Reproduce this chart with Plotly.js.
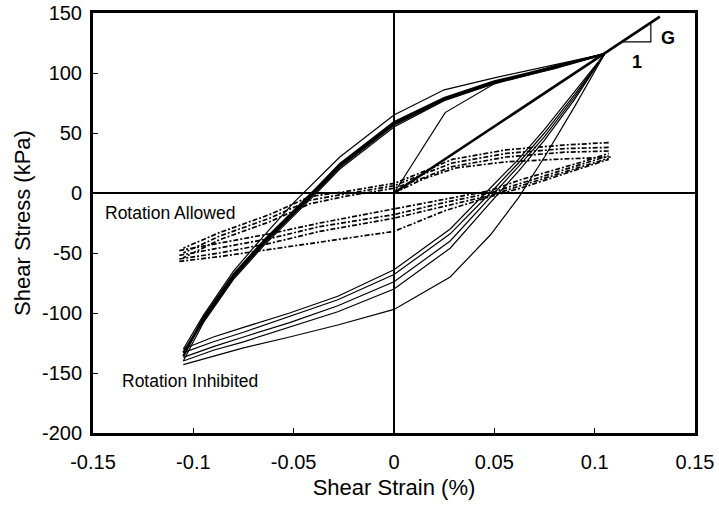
<!DOCTYPE html>
<html>
<head>
<meta charset="utf-8">
<script src="https://cdn.plot.ly/plotly-3.0.1.min.js"></script>
<style>html,body{margin:0;padding:0;background:#fff;}#chart{width:719px;height:507px;}</style>
</head>
<body>
<div id="chart"></div>
<script>
// ---- Tick labels ----
const xTickVals = [-0.15, -0.1, -0.05, 0, 0.05, 0.1, 0.15];
const xTickText = ["-0.15", "-0.1", "-0.05", "0", "0.05", "0.1", "0.15"];
const yTickVals = [-200, -150, -100, -50, 0, 50, 100, 150];
const yTickText = ["-200", "-150", "-100", "-50", "0", "50", "100", "150"];

// ---- Rotation Inhibited (solid loops) ----
const inhibInitX = [0, 0.0255, 0.051, 0.08, 0.105];
const inhibInitY = [0, 67, 92, 106, 116];

const inhibUpperX = [0.105, 0.08, 0.05, 0.025, 0, -0.027, -0.038, -0.05, -0.065, -0.08, -0.095, -0.105];
const inhibUpperA = [116, 104, 92, 78, 57, 22, 3, -17, -42, -70, -106, -133];
const inhibUpperB = [116, 107, 96, 86, 65, 30, 12, -8, -36, -65, -102, -130];
const inhibUpperC = [116, 105, 93, 79, 59, 24, 5, -15, -40, -68, -104, -136];
const inhibUpperD = [116, 104, 91, 77, 55, 20, 1, -19, -44, -72, -108, -140];

const inhibLowerX = [-0.105, -0.09, -0.075, -0.052, -0.028, 0, 0.028, 0.048, 0.062, 0.075, 0.09, 0.105];
const inhibLowerA = [-133, -124, -116, -103, -89, -68, -34, 0, 25, 50, 82, 116];
const inhibLowerB = [-130, -120, -112, -100, -86, -64, -30, 4, 28, 53, 85, 116];
const inhibLowerC = [-137, -128, -120, -108, -94, -74, -40, -4, 22, 47, 80, 116];
const inhibLowerD = [-140, -131, -124, -112, -99, -80, -46, -8, 18, 44, 78, 116];
const inhibLowerE = [-143, -136, -129, -120, -110, -97, -70, -35, -4, 30, 72, 116];

// ---- Shear modulus line G and slope triangle ----
const gLineX = [0, 0.1325];
const gLineY = [0, 147];
const triX = [0.114, 0.128, 0.128];
const triY = [126, 126, 141];

// ---- Rotation Allowed (dashed loops) ----
const allowInitX = [0, 0.015, 0.031, 0.056, 0.08, 0.108];
const allowInitY = [0, 12, 21, 26, 28, 30];

const allowUpperX = [0.107, 0.085, 0.056, 0.029, 0.012, 0, -0.025, -0.042, -0.062, -0.087, -0.105];
const allowUpper1 = [42, 40, 36, 28, 16, 8, 1, -3, -18, -33, -46];
const allowUpper2 = [38, 37, 33, 25, 14, 6, -1, -6, -21, -36, -50];
const allowUpper3 = [35, 34, 30, 22, 11, 4, -3, -9, -24, -39, -54];

const allowLowerX = [-0.107, -0.087, -0.062, -0.037, 0, 0.025, 0.048, 0.063, 0.08, 0.094, 0.107];
const allowLower1 = [-48, -42, -34, -25, -13, -5, 2, 11, 19, 26, 33];
const allowLower2 = [-52, -46, -38, -28, -18, -8, 0, 8, 17, 24, 31];
const allowLower3 = [-55, -50, -42, -32, -21, -11, -2, 6, 15, 22, 29];
const allowLower4 = [-57, -53, -47, -41, -32, -15, -3, 4, 13, 21, 28];

const solidThin = {color: "#000", width: 1.2};
const solidThick = {color: "#000", width: 2.4};
const dashed = {color: "#000", width: 1.7, dash: "5px,2px,2px,2px"};

function tr(x, y, line) {
  return {type: "scatter", mode: "lines", x: x, y: y, line: line, hoverinfo: "skip", showlegend: false};
}

const traces = [
  tr(allowInitX, allowInitY, dashed),
  tr(allowUpperX, allowUpper1, dashed),
  tr(allowUpperX, allowUpper2, dashed),
  tr(allowUpperX, allowUpper3, dashed),
  tr(allowLowerX, allowLower1, dashed),
  tr(allowLowerX, allowLower2, dashed),
  tr(allowLowerX, allowLower3, dashed),
  tr(allowLowerX, allowLower4, dashed),
  tr(inhibInitX, inhibInitY, solidThin),
  tr(inhibUpperX, inhibUpperA, solidThick),
  tr(inhibUpperX, inhibUpperB, solidThin),
  tr(inhibUpperX, inhibUpperC, solidThick),
  tr(inhibUpperX, inhibUpperD, solidThin),
  tr(inhibLowerX, inhibLowerA, solidThin),
  tr(inhibLowerX, inhibLowerB, solidThin),
  tr(inhibLowerX, inhibLowerC, solidThin),
  tr(inhibLowerX, inhibLowerD, solidThin),
  tr(inhibLowerX, inhibLowerE, solidThin),
  tr(gLineX, gLineY, {color: "#000", width: 2.6}),
  tr(triX, triY, {color: "#000", width: 1.2})
];

const font = "Liberation Sans, Arial, sans-serif";

const layout = {
  width: 719, height: 507,
  margin: {l: 93, r: 24, t: 13, b: 74},
  paper_bgcolor: "#fff", plot_bgcolor: "#fff",
  font: {family: font, color: "#000"},
  xaxis: {
    range: [-0.15, 0.15],
    tickvals: xTickVals, ticktext: xTickText,
    ticks: "inside", ticklen: 5, tickwidth: 1, tickcolor: "#000",
    showgrid: false, zeroline: true, zerolinecolor: "#000", zerolinewidth: 1.5,
    showline: true, linecolor: "#000", linewidth: 3, mirror: true,
    tickfont: {size: 20, family: font}, ticklabelstandoff: 9,
    title: {text: "Shear Strain (%)", font: {size: 22, family: font}, standoff: 8}
  },
  yaxis: {
    range: [-200, 150],
    tickvals: yTickVals, ticktext: yTickText,
    ticks: "inside", ticklen: 5, tickwidth: 1, tickcolor: "#000",
    showgrid: false, zeroline: true, zerolinecolor: "#000", zerolinewidth: 1.5,
    showline: true, linecolor: "#000", linewidth: 3, mirror: true,
    tickfont: {size: 20, family: font}, ticklabelstandoff: 4,
    title: {text: "Shear Stress (kPa)", font: {size: 22, family: font}, standoff: 6}
  },
  annotations: [
    {x: -0.145, y: -17, xref: "x", yref: "y", text: "Rotation Allowed", showarrow: false, xanchor: "left", font: {size: 17.5, family: font}},
    {x: -0.1365, y: -157, xref: "x", yref: "y", text: "Rotation Inhibited", showarrow: false, xanchor: "left", font: {size: 17.5, family: font}},
    {x: 0.1365, y: 129, xref: "x", yref: "y", text: "<b>G</b>", showarrow: false, xanchor: "center", font: {size: 18, family: font}},
    {x: 0.121, y: 109, xref: "x", yref: "y", text: "<b>1</b>", showarrow: false, xanchor: "center", font: {size: 18, family: font}}
  ]
};

Plotly.newPlot("chart", traces, layout, {displayModeBar: false, staticPlot: true});
</script>
</body>
</html>
